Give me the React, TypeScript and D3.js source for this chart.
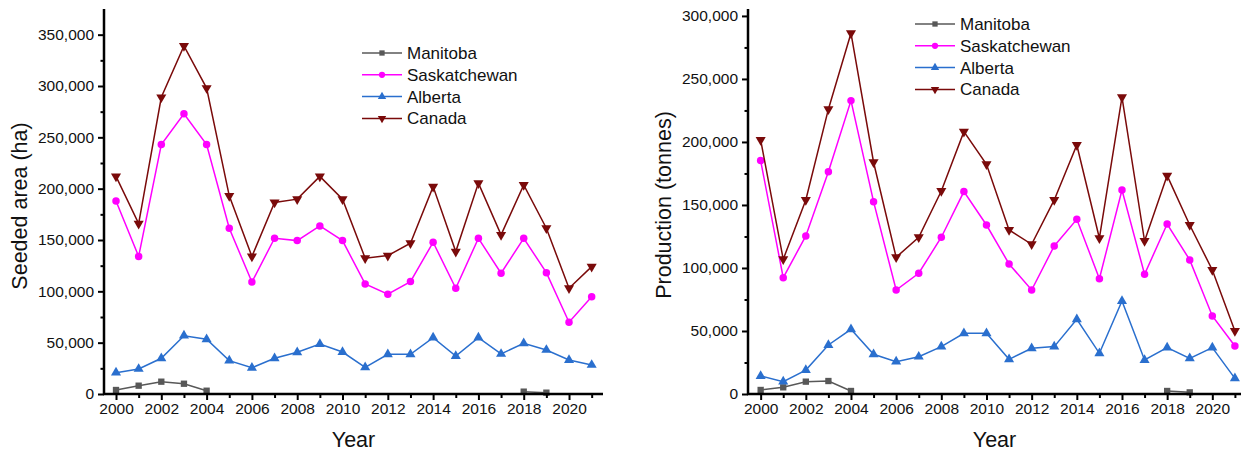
import React, { useEffect, useRef } from 'react'
import * as d3 from 'd3'

const years = d3.range(2000, 2022)
const seriesNames = ['Manitoba', 'Saskatchewan', 'Alberta', 'Canada']

// seeded area (ha)
const areaManitoba = [3900, 8100, 12000, 10000, 3200, null, null, null, null, null, null, null, null, null, null, null, null, null, 2300, 1300, null, null]
const areaSask = [188000, 134000, 243000, 273000, 243000, 161500, 109000, 151700, 149400, 163700, 149400, 107200, 97200, 109500, 147800, 103000, 151700, 117600, 151700, 118200, 69900, 94800]
const areaAlberta = [20800, 24400, 34800, 56800, 53300, 32500, 25600, 34800, 40600, 48700, 40900, 26000, 38700, 38700, 54900, 37000, 54900, 39000, 49400, 42900, 33100, 28300]
const areaCanada = [212000, 166000, 289000, 339000, 298000, 193000, 134000, 186500, 189800, 212000, 189800, 132300, 134800, 146900, 202000, 138700, 205400, 155000, 203700, 161500, 103000, 124100]

// production (tonnes)
const prodManitoba = [3200, 5300, 9800, 10300, 2400, null, null, null, null, null, null, null, null, null, null, null, null, null, 2400, 1300, null, null]
const prodSask = [185200, 92300, 125400, 176400, 232800, 152600, 82500, 95800, 124400, 160600, 134100, 103200, 82500, 117500, 138600, 91500, 161900, 95000, 134900, 106400, 61900, 38100]
const prodAlberta = [14300, 9800, 19000, 38900, 51300, 31500, 25700, 29600, 37600, 48200, 48200, 27500, 36300, 37600, 59300, 32300, 73800, 27000, 36800, 28300, 36800, 12400]
const prodCanada = [201600, 106900, 154000, 226000, 286300, 183900, 108500, 124400, 161100, 208200, 182300, 130200, 118800, 154000, 197600, 123600, 235500, 121400, 173300, 134100, 98400, 50000]

const colors = ['#585858', '#ff00ff', '#2a6fce', '#7a0a0a']
const symbols = [d3.symbolSquare, d3.symbolCircle, d3.symbolTriangle, d3.symbolTriangle]
const symbolRot = [0, 0, 0, 180]
const symbolSize = [40, 44, 44, 44]

const FONT = '"Liberation Sans", Arial, sans-serif'

function drawPanel(svg, cfg) {
  const x = d3.scaleLinear().domain(cfg.xDomain).range([cfg.left, cfg.right])
  const y = d3.scaleLinear().domain(cfg.yDomain).range([cfg.bottom, cfg.top])
  const g = svg.append('g')

  // series lines + markers
  cfg.data.forEach((vals, si) => {
    const pts = years.map((yr, i) => ({ yr, v: vals[i] }))
    const line = d3.line()
      .defined(d => d.v != null)
      .x(d => x(d.yr))
      .y(d => y(d.v))
    g.append('path')
      .datum(pts)
      .attr('d', line)
      .attr('fill', 'none')
      .attr('stroke', colors[si])
      .attr('stroke-width', 1.5)
    const sym = d3.symbol().type(symbols[si]).size(symbolSize[si])
    g.selectAll('.m' + si)
      .data(pts.filter(d => d.v != null))
      .enter().append('path')
      .attr('d', sym)
      .attr('transform', d => `translate(${x(d.yr)},${y(d.v)}) rotate(${symbolRot[si]})`)
      .attr('fill', colors[si])
  })

  // y axis
  const yAxis = d3.axisLeft(y).tickValues(cfg.yTicks).tickSize(6).tickPadding(4)
    .tickFormat(d3.format(','))
  const ya = g.append('g').attr('transform', `translate(${cfg.left},0)`).call(yAxis)
  ya.select('.domain').remove()
  ya.selectAll('.tick line').attr('stroke-width', 2)
  ya.selectAll('text').attr('font-size', 15.5).attr('font-family', FONT).attr('fill', '#111')
  const yMinor = d3.axisLeft(y).tickValues(cfg.yMinor).tickSize(3.5).tickFormat(() => '')
  const ym = g.append('g').attr('transform', `translate(${cfg.left},0)`).call(yMinor)
  ym.select('.domain').remove()
  ym.selectAll('.tick line').attr('stroke-width', 2)

  // x axis
  const xAxis = d3.axisBottom(x).tickValues(years.filter(v => v % 2 === 0)).tickSize(6).tickPadding(3)
    .tickFormat(d3.format('d'))
  const xa = g.append('g').attr('transform', `translate(0,${cfg.bottom})`).call(xAxis)
  xa.select('.domain').remove()
  xa.selectAll('.tick line').attr('stroke-width', 2)
  xa.selectAll('text').attr('font-size', 15.5).attr('font-family', FONT).attr('fill', '#111')
  const xMinor = d3.axisBottom(x).tickValues(years.filter(v => v % 2 === 1)).tickSize(4).tickFormat(() => '')
  const xm = g.append('g').attr('transform', `translate(0,${cfg.bottom})`).call(xMinor)
  xm.select('.domain').remove()
  xm.selectAll('.tick line').attr('stroke-width', 2)

  // axis lines
  g.append('line').attr('x1', cfg.left).attr('x2', cfg.left).attr('y1', cfg.top).attr('y2', cfg.bottom + 1)
    .attr('stroke', '#000').attr('stroke-width', 2.5)
  g.append('line').attr('x1', cfg.left - 1).attr('x2', cfg.right).attr('y1', cfg.bottom).attr('y2', cfg.bottom)
    .attr('stroke', '#000').attr('stroke-width', 2.5)

  // axis titles
  g.append('text').attr('x', (cfg.left + cfg.right) / 2).attr('y', 447)
    .attr('text-anchor', 'middle').attr('font-size', 21.5).attr('font-family', FONT).attr('fill', '#111')
    .text('Year')
  g.append('text').attr('transform', `translate(${cfg.titleX},${cfg.titleY}) rotate(-90)`)
    .attr('text-anchor', 'middle').attr('font-size', 21.5).attr('font-family', FONT).attr('fill', '#111')
    .text(cfg.yTitle)

  // legend
  const lg = g.append('g').attr('transform', `translate(${cfg.legX},${cfg.legY})`)
  seriesNames.forEach((name, si) => {
    const row = lg.append('g').attr('transform', `translate(0,${si * 21.8})`)
    row.append('line').attr('x1', 0).attr('x2', 40).attr('y1', 0).attr('y2', 0)
      .attr('stroke', colors[si]).attr('stroke-width', 1.5)
    row.append('path').attr('d', d3.symbol().type(symbols[si]).size(symbolSize[si] * 0.7))
      .attr('transform', `translate(20,0) rotate(${symbolRot[si]})`)
      .attr('fill', colors[si])
    row.append('text').attr('x', 45).attr('y', 0).attr('dy', '0.35em')
      .attr('font-size', 17).attr('font-family', FONT).attr('fill', '#111')
      .text(name)
  })
}

export default function App() {
  const ref = useRef(null)

  useEffect(() => {
    const svg = d3.select(ref.current)
    svg.selectAll('*').remove()

    drawPanel(svg, {
      left: 104, right: 603, top: 9, bottom: 394,
      xDomain: [1999.47, 2021.5],
      yDomain: [0, 375000],
      yTicks: d3.range(0, 350001, 50000),
      yMinor: d3.range(25000, 375000, 50000),
      data: [areaManitoba, areaSask, areaAlberta, areaCanada],
      yTitle: 'Seeded area (ha)',
      titleX: 27, titleY: 206,
      legX: 362, legY: 53,
    })

    drawPanel(svg, {
      left: 748, right: 1241, top: 9, bottom: 394,
      xDomain: [1999.44, 2021.27],
      yDomain: [0, 305500],
      yTicks: d3.range(0, 300001, 50000),
      yMinor: d3.range(25000, 305000, 50000),
      data: [prodManitoba, prodSask, prodAlberta, prodCanada],
      yTitle: 'Production (tonnes)',
      titleX: 671, titleY: 205,
      legX: 915, legY: 24,
    })
  }, [])

  return (
    <div style={{ position: 'fixed', left: 0, top: 0, background: '#fff' }}>
      <svg ref={ref} width={1241} height={457} style={{ display: 'block' }} />
    </div>
  )
}
